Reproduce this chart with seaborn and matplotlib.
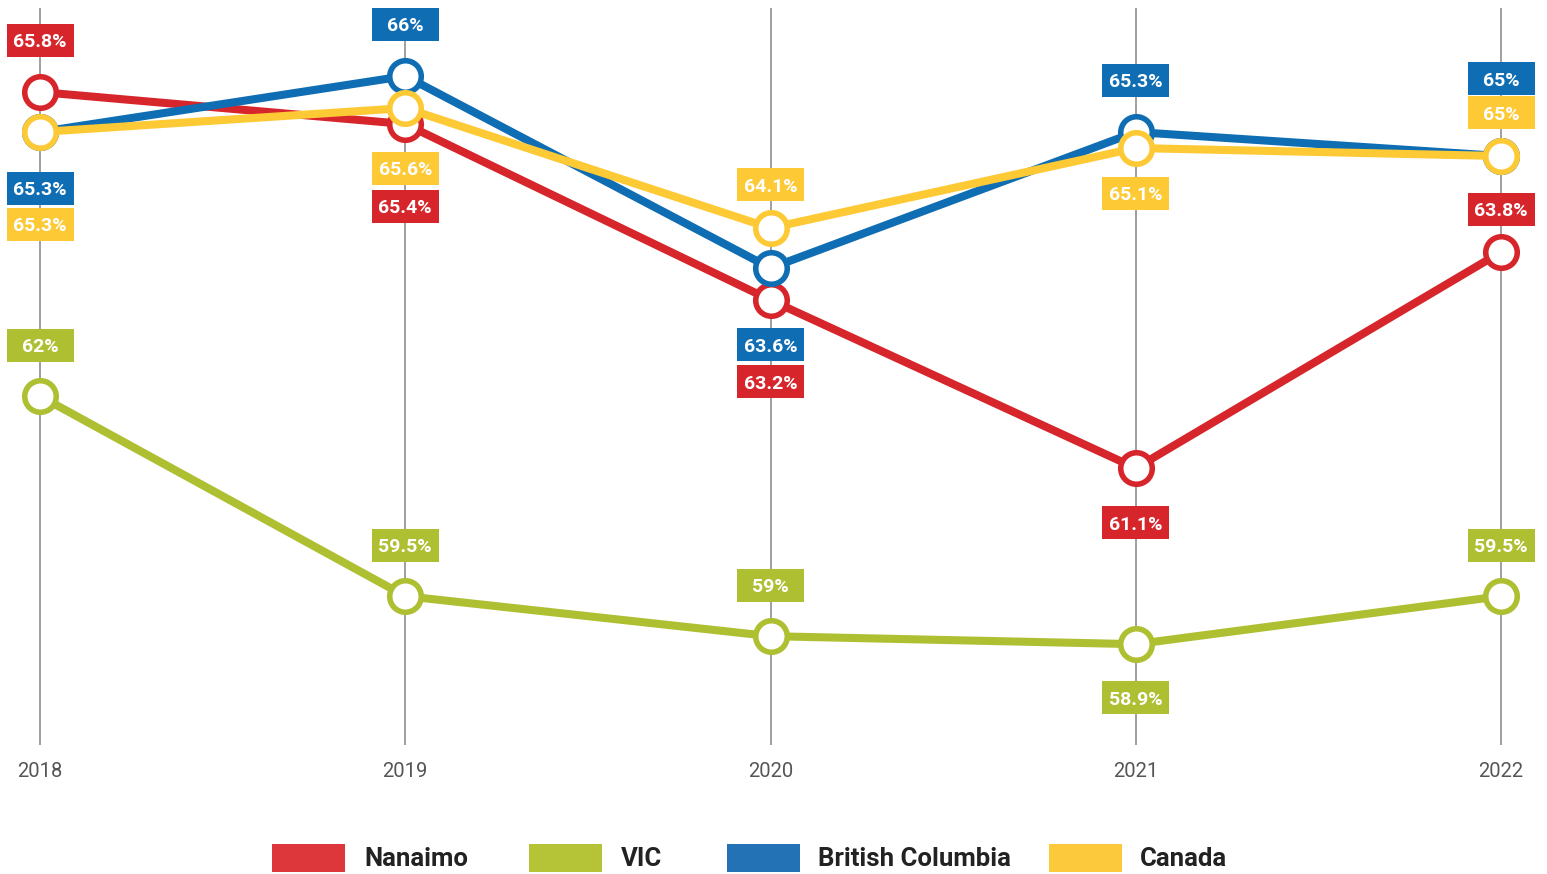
import matplotlib
matplotlib.use("Agg")
import matplotlib.pyplot as plt
import matplotlib.patches as mpatches
from matplotlib.transforms import IdentityTransform
import seaborn as sns
import pandas as pd

years = [2018, 2019, 2020, 2021, 2022]
series_names = ["Nanaimo", "VIC", "British Columbia", "Canada"]
nanaimo = [65.8, 65.4, 63.2, 61.1, 63.8]
vic = [62.0, 59.5, 59.0, 58.9, 59.5]
british_columbia = [65.3, 66.0, 63.6, 65.3, 65.0]
canada = [65.3, 65.6, 64.1, 65.1, 65.0]
value_labels = {
    "Nanaimo": ["65.8%", "65.4%", "63.2%", "61.1%", "63.8%"],
    "VIC": ["62%", "59.5%", "59%", "58.9%", "59.5%"],
    "British Columbia": ["65.3%", "66%", "63.6%", "65.3%", "65%"],
    "Canada": ["65.3%", "65.6%", "64.1%", "65.1%", "65%"],
}

# styling / layout
line_colors = {"Nanaimo": "#D7262B", "VIC": "#AFBF32",
               "British Columbia": "#0F6DB3", "Canada": "#FDC934"}
legend_colors = {"Nanaimo": "#DD373C", "VIC": "#B5C337",
                 "British Columbia": "#2272B5", "Canada": "#FDC93C"}
# label centre offsets in pixels (positive = below the point)
label_offsets = {
    "Nanaimo": [-52, 82, 81.5, 54.5, -43],
    "VIC": [-51, -51, -51, 53.5, -51],
    "British Columbia": [56, -52, 76.5, -52, -77.5],
    "Canada": [92, 60, -43.5, 45, -43.5],
}

values = {"Nanaimo": nanaimo, "VIC": vic,
          "British Columbia": british_columbia, "Canada": canada}
df = pd.concat([pd.DataFrame({"year": years, "value": values[n], "series": n})
                for n in series_names], ignore_index=True)

sns.set_theme(style="white")
plt.rcParams["font.family"] = ["Roboto", "DejaVu Sans"]

W, H = 1547, 874
fig = plt.figure(figsize=(W / 100, H / 100), dpi=100)
ax = fig.add_axes([0, (H - 745) / H, 1, (745 - 8) / H])

for i, name in enumerate(series_names):
    c = line_colors[name]
    sns.lineplot(data=df[df["series"] == name], x="year", y="value", ax=ax,
                 color=c, lw=5.8, marker="o", markersize=22.7,
                 markerfacecolor="white", markeredgecolor=c,
                 markeredgewidth=4, zorder=3 + i, legend=False)

pxyr = (1501 - 40) / 4
ax.set_xlim(2018 - 40 / pxyr, 2022 + 46 / pxyr)
ax.set_ylim(57.64, 66.85)
ax.set_xticks(years)
ax.set_xticklabels([str(y) for y in years], fontsize=14.5, color="#555555")
ax.set_yticks([])
ax.set_xlabel("")
ax.set_ylabel("")
ax.tick_params(axis="x", length=0, pad=12)
ax.grid(axis="x", color="#8f8f8f", lw=1.2)
ax.grid(axis="y", visible=False)
ax.set_axisbelow(True)
for s in ax.spines.values():
    s.set_visible(False)

# value labels as fixed-size boxes
bw, bh = 67, 33
for name in series_names:
    for j, yr in enumerate(years):
        px, py = ax.transData.transform((yr, values[name][j]))
        cy = py - label_offsets[name][j]
        fig.add_artist(mpatches.Rectangle((px - bw / 2, cy - bh / 2), bw, bh,
                                          transform=IdentityTransform(),
                                          facecolor=line_colors[name],
                                          edgecolor="none", zorder=10))
        fig.text(px, cy, value_labels[name][j], transform=IdentityTransform(),
                 ha="center", va="center_baseline", color="white",
                 fontsize=14, fontweight="bold", zorder=11)

# legend
leg_patch_x = [272, 529, 727, 1049]
leg_text_x = [364, 621, 818, 1140]
for name, px, tx in zip(series_names, leg_patch_x, leg_text_x):
    fig.add_artist(mpatches.Rectangle((px, H - 872), 73, 28,
                                      transform=IdentityTransform(),
                                      facecolor=legend_colors[name],
                                      edgecolor="none"))
    fig.text(tx, H - 857, name, transform=IdentityTransform(), ha="left",
             va="center_baseline", color="#222222", fontsize=18.5,
             fontweight="bold")

fig.savefig("out.png", dpi=100)
